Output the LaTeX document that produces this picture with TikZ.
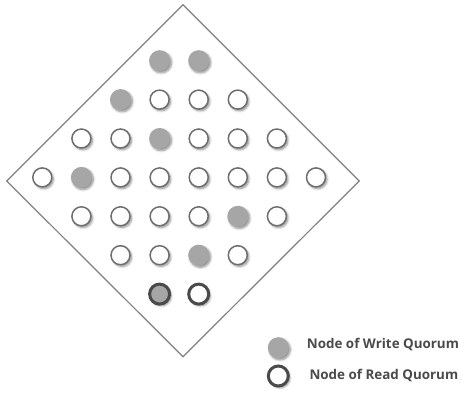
\documentclass[tikz,border=0pt]{standalone}
\usepackage{fontspec}
\setmainfont{Open Sans}
\usetikzlibrary{shadows.blur}
\definecolor{wgray}{HTML}{A6A6A6}
\definecolor{ogray}{HTML}{6E6E6E}
\definecolor{rgray}{HTML}{4A4A4A}
\definecolor{lgray}{HTML}{808080}
\definecolor{tgray}{HTML}{4A4A4A}
\tikzset{
  shd/.style={blur shadow={shadow xshift=1.6pt, shadow yshift=-1.8pt, shadow blur radius=2.2pt, shadow blur steps=6, shadow opacity=45}},
  qopen/.style={circle, minimum size=19pt, inner sep=0pt, draw=ogray, line width=1.5pt, fill=white, shd},
  qwrite/.style={circle, minimum size=21pt, inner sep=0pt, fill=wgray, shd},
  qread/.style={circle, minimum size=20pt, inner sep=0pt, draw=rgray, line width=3pt, fill=white, shd},
  qreadw/.style={qread, fill=wgray},
  legtext/.style={anchor=west, inner sep=0pt, text=tgray, font=\fontsize{13.4}{15}\selectfont\bfseries},
}
\begin{document}
\begin{tikzpicture}[x=1pt, y=-1pt]
\useasboundingbox (0,0) rectangle (461,395);
\draw[lgray, line width=1.2pt, line join=miter] (183,4.7) -- (359.3,181) -- (183,356.7) -- (6.7,181) -- cycle;
\foreach \r/\c/\s in {0/3/qwrite,0/4/qwrite,
  1/2/qwrite,1/3/qopen,1/4/qopen,1/5/qopen,
  2/1/qopen,2/2/qopen,2/3/qwrite,2/4/qopen,2/5/qopen,2/6/qopen,
  3/0/qopen,3/1/qwrite,3/2/qopen,3/3/qopen,3/4/qopen,3/5/qopen,3/6/qopen,3/7/qopen,
  4/1/qopen,4/2/qopen,4/3/qopen,4/4/qopen,4/5/qwrite,4/6/qopen,
  5/2/qopen,5/3/qopen,5/4/qwrite,5/5/qopen,
  6/3/qreadw,6/4/qread}
  \node[\s] (n\r\c) at ({42.3+39.1*\c},{60.7+38.9*\r}) {};
\node[qwrite] (legw) at (278.3,347.7) {};
\node[qread] (legr) at (278.3,376) {};
\node[legtext] (tw) at (306.7,344.3) {Node of Write Quorum};
\node[legtext] (tr) at (309.3,376) {Node of Read Quorum};
\end{tikzpicture}
\end{document}
